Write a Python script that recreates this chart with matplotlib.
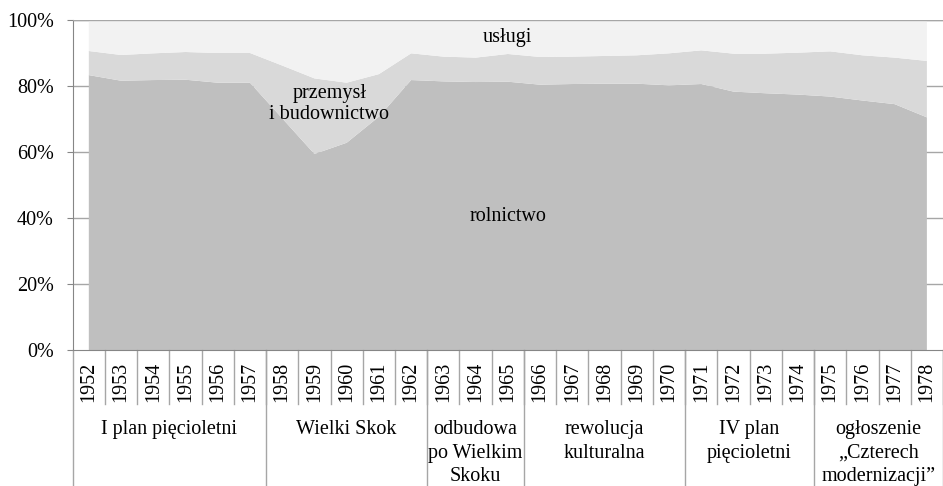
import matplotlib.pyplot as plt
import matplotlib.transforms as mtransforms
import numpy as np

plt.rcParams["font.family"] = ["Liberation Serif", "DejaVu Serif"]

years = list(range(1952, 1979))

# udział w PKB, %
rolnictwo = [83.3, 81.6, 81.8, 81.9, 81.0, 81.0, 70.2, 59.4, 62.8, 70.7, 81.8, 81.4, 81.2, 81.3,
             80.4, 80.6, 80.7, 80.7, 80.2, 80.6, 78.3, 77.8, 77.4, 76.8, 75.6, 74.5, 70.5]
przemysl = [7.3, 7.8, 8.1, 8.4, 9.0, 9.0, 16.0, 22.9, 18.2, 12.9, 8.1, 7.5, 7.4, 8.4,
            8.4, 8.3, 8.4, 8.6, 9.7, 10.2, 11.5, 12.0, 12.7, 13.7, 13.7, 14.1, 17.1]
uslugi = [9.4, 10.6, 10.1, 9.7, 10.0, 10.0, 13.8, 17.7, 19.0, 16.4, 10.1, 11.1, 11.4, 10.3,
          11.2, 11.1, 10.9, 10.7, 10.1, 9.2, 10.2, 10.2, 9.9, 9.5, 10.7, 11.4, 12.4]

periods = ["I plan pięcioletni", "Wielki Skok", "odbudowa\npo Wielkim\nSkoku",
           "rewolucja\nkulturalna", "IV plan\npięcioletni", "ogłoszenie\n„Czterech\nmodernizacji”"]
period_lengths = [6, 5, 3, 5, 4, 4]

y_ticks = [0, 20, 40, 60, 80, 100]
y_labels = ["0%", "20%", "40%", "60%", "80%", "100%"]

colors = ["#bfbfbf", "#d9d9d9", "#f2f2f2"]
line_color = "#a6a6a6"
fs = 14.5

fig = plt.figure(figsize=(9.43, 4.86), dpi=100)
ax = fig.add_axes([72.7 / 943, (486 - 350) / 486, (943 - 72.7) / 943, 330 / 486])

x = np.arange(len(years))
for t in y_ticks[1:]:
    ax.axhline(t, color=line_color, lw=1, zorder=0)
ax.stackplot(x, rolnictwo, przemysl, uslugi, colors=colors, zorder=1)
ax.axhline(100, color=line_color, lw=1, zorder=3)

ax.set_xlim(-0.5, len(years) - 0.5)
ax.set_ylim(0, 100)
ax.set_yticks(y_ticks)
ax.set_yticklabels(y_labels, fontsize=fs)
ax.set_xticks([])
for side in ["top", "right"]:
    ax.spines[side].set_visible(False)
ax.spines["left"].set_color("#868686")
ax.spines["bottom"].set_color("#868686")
ax.tick_params(axis="y", length=4, color="#868686", pad=9.5)

ax.text(13.0, 94.8, "usługi", ha="center", va="center", fontsize=fs)
ax.text(7.46, 74.5, "przemysł\ni budownictwo", ha="center", va="center", fontsize=fs,
        linespacing=1.17)
ax.text(13.0, 40.4, "rolnictwo", ha="center", va="center", fontsize=fs)

# oś kategorii: lata i okresy
trans = mtransforms.blended_transform_factory(ax.transData, ax.transAxes)
year_bottom = -54 / 330
fig_bottom = -136 / 330
for i, yr in enumerate(years):
    ax.text(i, -31.5 / 330, str(yr), rotation=90, ha="center", va="center",
            fontsize=fs, transform=trans, clip_on=False)
    ax.plot([i + 0.5, i + 0.5], [0, year_bottom], color=line_color, lw=1,
            transform=trans, clip_on=False)

start = -0.5
ax.plot([start, start], [0, fig_bottom], color=line_color, lw=1, transform=trans, clip_on=False)
for name, n in zip(periods, period_lengths):
    end = start + n
    ax.plot([end, end], [0, fig_bottom], color=line_color, lw=1, transform=trans, clip_on=False)
    ax.text((start + end) / 2, -70 / 330, name, ha="center", va="top", fontsize=fs,
            linespacing=1.33, transform=trans, clip_on=False)
    start = end

fig.savefig("out.png", dpi=100)
